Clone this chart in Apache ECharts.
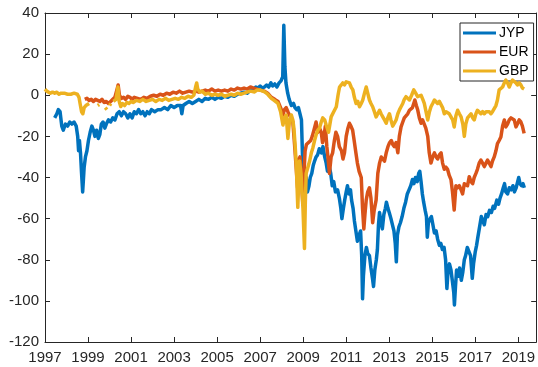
<!DOCTYPE html>
<html><head><meta charset="utf-8">
<script src="https://cdn.jsdelivr.net/npm/echarts@6/dist/echarts.min.js"></script>
<style>html,body{margin:0;padding:0;background:#fff}#c{width:538px;height:367px}</style>
</head><body><div id="c"></div>
<script>
const seriesNames = ['JYP', 'EUR', 'GBP'];
const xTicks = [1997, 1999, 2001, 2003, 2005, 2007, 2009, 2011, 2013, 2015, 2017, 2019];
const yTicks = [-120, -100, -80, -60, -40, -20, 0, 20, 40];

const jypData = [
[1997.45,-11],[1997.55,-9],[1997.62,-7],[1997.7,-8],[1997.78,-15],[1997.85,-17],[1997.95,-14],[1998.05,-15],[1998.15,-13],[1998.25,-14],[1998.35,-13],[1998.45,-15],[1998.52,-20],[1998.56,-27],[1998.6,-22],[1998.65,-28],[1998.7,-38],[1998.75,-47],[1998.78,-42],[1998.82,-35],[1998.88,-30],[1998.95,-27],[1999.02,-22],[1999.1,-18],[1999.18,-15],[1999.25,-17],[1999.32,-20],[1999.4,-17],[1999.48,-21],[1999.55,-19],[1999.62,-14],[1999.7,-13],[1999.78,-16],[1999.85,-14],[1999.95,-12],[2000.05,-13],[2000.15,-11],[2000.25,-12],[2000.35,-9],[2000.45,-8],[2000.55,-10],[2000.65,-8],[2000.75,-9],[2000.85,-11],[2000.95,-9],[2001.05,-11],[2001.15,-8],[2001.25,-9],[2001.35,-7],[2001.45,-9],[2001.55,-8],[2001.65,-10],[2001.75,-8],[2001.85,-9],[2001.95,-7],[2002.1,-8],[2002.25,-7],[2002.4,-7],[2002.55,-6],[2002.7,-7],[2002.85,-5],[2003.0,-6],[2003.15,-5],[2003.3,-5],[2003.36,-9],[2003.42,-5],[2003.55,-4],[2003.7,-3],[2003.85,-4],[2004.0,-3],[2004.15,-2],[2004.3,-3],[2004.45,-1.5],[2004.6,-2],[2004.75,-1],[2004.9,-2],[2005.05,-1],[2005.2,-1.5],[2005.35,-0.5],[2005.5,-1],[2005.65,0],[2005.8,-0.5],[2005.95,0.5],[2006.1,1],[2006.25,1.5],[2006.4,1],[2006.55,2.5],[2006.7,3],[2006.8,4],[2006.9,3.5],[2007.0,4.5],[2007.1,3.5],[2007.2,4],[2007.3,5],[2007.4,4],[2007.5,6],[2007.58,4.5],[2007.68,5.5],[2007.78,4],[2007.88,6],[2007.97,7],[2008.05,9],[2008.1,34],[2008.15,14],[2008.2,6],[2008.28,1],[2008.35,-2],[2008.45,-5],[2008.55,-4],[2008.62,-6],[2008.7,-7],[2008.78,-6],[2008.85,-9],[2008.92,-12],[2008.97,-30],[2009.02,-38],[2009.08,-43],[2009.14,-40],[2009.2,-47],[2009.27,-44],[2009.33,-40],[2009.4,-38],[2009.47,-34],[2009.53,-32],[2009.6,-30],[2009.67,-29],[2009.75,-26],[2009.85,-28],[2009.92,-25],[2010.0,-30],[2010.07,-33],[2010.13,-37],[2010.2,-34],[2010.28,-38],[2010.35,-44],[2010.42,-42],[2010.5,-47],[2010.6,-46],[2010.68,-50],[2010.75,-55],[2010.8,-60],[2010.87,-55],[2010.93,-51],[2011.0,-47],[2011.06,-44],[2011.13,-48],[2011.2,-46],[2011.25,-51],[2011.32,-55],[2011.38,-61],[2011.45,-66],[2011.52,-71],[2011.6,-68],[2011.67,-66],[2011.72,-78],[2011.76,-99],[2011.8,-88],[2011.87,-78],[2011.94,-74],[2012.0,-77],[2012.08,-78],[2012.15,-84],[2012.22,-89],[2012.27,-93],[2012.33,-85],[2012.4,-80],[2012.45,-75],[2012.5,-63],[2012.55,-57],[2012.62,-62],[2012.68,-65],[2012.75,-58],[2012.82,-55],[2012.87,-52],[2012.94,-55],[2013.0,-57],[2013.08,-60],[2013.15,-63],[2013.22,-66],[2013.28,-72],[2013.33,-81],[2013.38,-68],[2013.45,-64],[2013.52,-62],[2013.6,-59],[2013.68,-55],[2013.76,-52],[2013.84,-48],[2013.92,-46],[2014.0,-44],[2014.08,-41],[2014.15,-43],[2014.22,-40],[2014.3,-42],[2014.37,-38],[2014.42,-37],[2014.48,-42],[2014.54,-48],[2014.6,-52],[2014.67,-56],[2014.73,-59],[2014.77,-69],[2014.82,-62],[2014.9,-60],[2014.96,-59],[2015.03,-63],[2015.1,-67],[2015.18,-66],[2015.25,-70],[2015.33,-73],[2015.4,-72],[2015.47,-75],[2015.55,-74],[2015.62,-80],[2015.68,-94],[2015.73,-86],[2015.8,-82],[2015.87,-85],[2015.93,-90],[2016.0,-96],[2016.03,-102],[2016.08,-93],[2016.13,-85],[2016.2,-88],[2016.27,-84],[2016.35,-90],[2016.42,-86],[2016.49,-80],[2016.55,-78],[2016.63,-74],[2016.7,-76],[2016.78,-78],[2016.86,-89],[2016.92,-82],[2017.0,-76],[2017.06,-73],[2017.12,-69],[2017.2,-64],[2017.28,-59],[2017.35,-61],[2017.42,-63],[2017.5,-58],[2017.58,-59],[2017.66,-56],[2017.75,-57],[2017.83,-54],[2017.9,-55],[2018.0,-51],[2018.08,-53],[2018.15,-50],[2018.22,-48],[2018.3,-45],[2018.36,-43],[2018.42,-47],[2018.5,-48],[2018.58,-45],[2018.67,-46],[2018.75,-44],[2018.82,-47],[2018.9,-45],[2018.97,-42],[2019.02,-40],[2019.08,-43],[2019.15,-44],[2019.22,-43],[2019.28,-45]
];

const eurData = [
[1998.85,-2],[1998.95,-1.5],[1999.05,-2.5],[1999.15,-2],[1999.25,-3],[1999.35,-2],[1999.45,-2.5],[1999.55,-3],[1999.65,-2],[1999.75,-3.5],[1999.85,-3],[1999.95,-4],[2000.05,-3],[2000.15,-2],[2000.25,-1],[2000.35,3],[2000.4,5],[2000.46,0],[2000.55,-1.5],[2000.65,-1],[2000.75,-2],[2000.85,-0.5],[2000.95,-1],[2001.05,-2],[2001.15,-1],[2001.3,-1.5],[2001.45,-2],[2001.6,-1],[2001.75,-1.5],[2001.9,-0.5],[2002.05,0],[2002.2,-0.5],[2002.35,0.5],[2002.5,0],[2002.65,1],[2002.8,0.5],[2002.95,1.5],[2003.1,1],[2003.25,2],[2003.4,1],[2003.55,1.5],[2003.7,2],[2003.85,1.5],[2004.0,2],[2004.15,1.5],[2004.3,2],[2004.45,2.5],[2004.6,2],[2004.75,3],[2004.9,2],[2005.05,2.5],[2005.2,2],[2005.35,2.5],[2005.5,2],[2005.65,3],[2005.8,2.5],[2005.95,3.5],[2006.1,3],[2006.25,3.5],[2006.4,3],[2006.55,4],[2006.7,3.5],[2006.85,3],[2007.0,2.5],[2007.2,2],[2007.35,1],[2007.52,-1],[2007.68,-2],[2007.83,-3],[2007.95,-6],[2008.06,-9.6],[2008.13,-7],[2008.21,-6],[2008.29,-8],[2008.36,-9.6],[2008.44,-11],[2008.52,-13],[2008.6,-24],[2008.66,-33],[2008.74,-45],[2008.8,-31],[2008.85,-30],[2008.9,-38],[2008.98,-52],[2009.03,-40],[2009.09,-27],[2009.15,-24],[2009.25,-23],[2009.35,-22],[2009.42,-20],[2009.5,-17],[2009.6,-13],[2009.68,-18],[2009.76,-16],[2009.84,-18],[2009.9,-23],[2009.97,-20],[2010.03,-15],[2010.1,-25],[2010.15,-30],[2010.22,-38],[2010.3,-30],[2010.37,-28],[2010.45,-22],[2010.52,-18],[2010.6,-20],[2010.68,-25],[2010.78,-27],[2010.85,-31],[2010.92,-28],[2011.0,-20],[2011.08,-16],[2011.15,-13.6],[2011.22,-15],[2011.3,-17],[2011.37,-22],[2011.45,-28],[2011.52,-33],[2011.6,-37],[2011.7,-40],[2011.76,-55],[2011.82,-65],[2011.87,-58],[2011.93,-51],[2012.0,-47],[2012.08,-45],[2012.15,-50],[2012.23,-62],[2012.3,-56],[2012.39,-51],[2012.47,-38],[2012.55,-33],[2012.63,-30],[2012.7,-31],[2012.78,-32],[2012.86,-28],[2012.94,-25],[2013.02,-23],[2013.1,-22],[2013.17,-24],[2013.24,-25],[2013.32,-23],[2013.4,-28],[2013.47,-20],[2013.55,-15.4],[2013.63,-13],[2013.7,-11],[2013.78,-10.5],[2013.86,-9],[2013.94,-7.3],[2014.01,-7],[2014.08,-6],[2014.14,-4],[2014.19,-2.3],[2014.26,-5],[2014.32,-7],[2014.4,-11],[2014.48,-13.6],[2014.55,-12],[2014.63,-12],[2014.7,-16],[2014.79,-20],[2014.86,-28],[2014.94,-33],[2015.02,-30],[2015.1,-28],[2015.18,-30],[2015.25,-31],[2015.33,-29],[2015.41,-28],[2015.48,-33],[2015.56,-36],[2015.64,-35],[2015.71,-36],[2015.79,-39],[2015.87,-41],[2015.94,-47],[2016.02,-55.8],[2016.1,-44],[2016.18,-45],[2016.26,-44],[2016.34,-46],[2016.41,-48],[2016.49,-43],[2016.57,-43],[2016.64,-44],[2016.72,-39.6],[2016.8,-42],[2016.88,-43],[2016.95,-40],[2017.03,-38],[2017.1,-36],[2017.18,-33],[2017.26,-31.5],[2017.34,-33],[2017.42,-34.7],[2017.5,-33],[2017.57,-31.5],[2017.65,-33],[2017.73,-34.7],[2017.8,-32],[2017.88,-30],[2017.96,-27],[2018.03,-23.5],[2018.11,-22],[2018.19,-20.3],[2018.27,-15],[2018.35,-12],[2018.42,-15.4],[2018.5,-14],[2018.58,-12],[2018.66,-11],[2018.73,-10.5],[2018.81,-12],[2018.89,-15.4],[2018.96,-14],[2019.04,-12],[2019.12,-13],[2019.19,-15],[2019.27,-18.5]
];

const gbpData = [
[1997.0,3],[1997.08,2],[1997.15,1.5],[1997.25,1],[1997.35,1.5],[1997.45,1],[1997.55,1.5],[1997.65,0.5],[1997.75,1],[1997.9,1],[1998.05,0.5],[1998.2,0.5],[1998.35,1],[1998.5,0.5],[1998.58,-1],[1998.63,-4],[1998.7,-8],[1998.76,-9],[1998.82,-6],[1998.9,-5],[1998.97,-4.5],[1999.05,-4],[1999.12,null],[1999.45,-5],[1999.52,-4.5],[1999.56,null],[1999.8,-6],[1999.88,-7],[1999.93,null],[2000.0,-5],[2000.06,-4],[2000.1,null],[2000.18,-3],[2000.3,-2],[2000.36,2],[2000.39,4],[2000.45,-3],[2000.52,-5.5],[2000.6,-4],[2000.7,-5],[2000.8,-3.5],[2000.9,-4],[2001.0,-3],[2001.1,-3.5],[2001.25,-2.5],[2001.4,-3],[2001.55,-2],[2001.7,-3],[2001.85,-2.5],[2002.0,-2],[2002.15,-3],[2002.3,-2],[2002.45,-2.5],[2002.6,-1.5],[2002.75,-2.5],[2002.9,-2],[2003.05,-1.5],[2003.2,-2],[2003.35,-1],[2003.5,-1.5],[2003.65,-0.5],[2003.8,-1],[2003.92,0],[2004.0,4],[2004.05,6],[2004.1,3],[2004.2,1.5],[2004.3,2],[2004.45,0.5],[2004.6,1],[2004.75,0],[2004.9,0.5],[2005.05,0],[2005.2,0.5],[2005.35,-0.5],[2005.5,0],[2005.65,0.5],[2005.8,0],[2005.95,1],[2006.1,0.5],[2006.25,1],[2006.4,1.5],[2006.55,2],[2006.74,1.6],[2006.85,2.5],[2007.0,2.5],[2007.21,1.6],[2007.35,0.5],[2007.52,-1.5],[2007.65,-2.5],[2007.83,-4],[2007.95,-8],[2008.06,-14.5],[2008.13,-11],[2008.21,-9.6],[2008.29,-21],[2008.37,-12],[2008.45,-9.6],[2008.52,-12],[2008.57,-16],[2008.63,-25],[2008.68,-34],[2008.75,-54.5],[2008.8,-40],[2008.83,-32],[2008.9,-38],[2008.95,-48],[2008.99,-55],[2009.06,-74.5],[2009.1,-52],[2009.14,-38],[2009.22,-35],[2009.3,-32],[2009.38,-28],[2009.45,-25.6],[2009.53,-22],[2009.61,-19],[2009.68,-17],[2009.76,-16],[2009.84,-13],[2009.91,-11],[2010.0,-12],[2010.07,-14.5],[2010.18,-18],[2010.3,-10.5],[2010.42,-8],[2010.54,-5.6],[2010.62,0],[2010.69,4],[2010.77,5],[2010.84,6],[2010.92,5],[2011.0,6.5],[2011.07,7.4],[2011.15,6],[2011.23,4],[2011.31,2.6],[2011.38,-1],[2011.46,-4],[2011.54,-3],[2011.62,-5.6],[2011.7,-4],[2011.77,-2.3],[2011.85,1],[2011.93,4],[2012.0,1],[2012.08,-2.3],[2012.15,-4],[2012.23,-5.6],[2012.31,-8],[2012.39,-10.5],[2012.47,-9],[2012.55,-7.3],[2012.62,-9],[2012.7,-10.5],[2012.78,-12],[2012.86,-13.6],[2012.93,-11],[2013.01,-9],[2013.08,-12],[2013.16,-15],[2013.24,-13.6],[2013.32,-12],[2013.4,-9],[2013.48,-7],[2013.55,-5.6],[2013.63,-4],[2013.7,-2],[2013.78,-0.7],[2013.86,-1.5],[2013.94,-2.3],[2014.04,0],[2014.14,2.6],[2014.23,1],[2014.32,-0.7],[2014.4,-1],[2014.48,0],[2014.56,-2],[2014.63,-4],[2014.71,-8],[2014.79,-12],[2014.87,-8],[2014.94,-5.6],[2015.02,-4],[2015.1,-2.3],[2015.18,-3],[2015.25,-4],[2015.33,-3],[2015.41,-3.3],[2015.48,-6],[2015.56,-9],[2015.64,-8],[2015.71,-7.3],[2015.79,-9],[2015.87,-10.5],[2015.95,-12],[2016.02,-15.4],[2016.1,-10],[2016.18,-7.3],[2016.26,-9],[2016.34,-10.5],[2016.42,-14],[2016.49,-20],[2016.56,-14],[2016.64,-11],[2016.72,-10],[2016.8,-9],[2016.88,-11],[2016.95,-12],[2017.03,-9],[2017.1,-7.3],[2017.18,-8],[2017.26,-9],[2017.34,-8],[2017.42,-9],[2017.5,-8],[2017.57,-7.3],[2017.65,-8],[2017.73,-9],[2017.8,-8],[2017.88,-7.3],[2017.96,-5],[2018.03,-2.3],[2018.11,2.6],[2018.19,3],[2018.27,4],[2018.35,6],[2018.42,7.4],[2018.5,6],[2018.58,4],[2018.66,6],[2018.73,7.4],[2018.81,7],[2018.89,6],[2018.96,5],[2019.04,6],[2019.12,5],[2019.19,3.5],[2019.27,3]
];

const allData = [jypData, eurData, gbpData];
const colors = ['#0072BD', '#D95319', '#EDB120'];
const axisColor = '#262626';
const fontFamily = 'Liberation Sans, Arial, Helvetica, sans-serif';

const chart = echarts.init(document.getElementById('c'), null, {renderer: 'canvas'});

function xAx(pos, show) {
  return {
    type: 'value', position: pos, min: 1997, max: 2019.83,
    axisLine: {show: true, onZero: false, lineStyle: {color: axisColor, width: 1}},
    axisTick: {show: true, inside: true, length: 5, lineStyle: {color: axisColor}, customValues: xTicks},
    axisLabel: {show: show, customValues: xTicks, formatter: v => String(Math.round(v)),
      color: axisColor, fontSize: 15, fontFamily: fontFamily, margin: 8},
    splitLine: {show: false}
  };
}
function yAx(pos, show) {
  return {
    type: 'value', position: pos, min: -120, max: 40, interval: 20,
    axisLine: {show: true, onZero: false, lineStyle: {color: axisColor, width: 1}},
    axisTick: {show: true, inside: true, length: 5, lineStyle: {color: axisColor}},
    axisLabel: {show: show, color: axisColor, fontSize: 15, fontFamily: fontFamily, margin: 6},
    splitLine: {show: false}
  };
}

chart.setOption({
  animation: false,
  backgroundColor: '#fff',
  grid: {left: 45, right: 1, top: 13, bottom: 25, containLabel: false},
  xAxis: [xAx('bottom', true), xAx('top', false)],
  yAxis: [yAx('left', true), yAx('right', false)],
  legend: {
    show: true, orient: 'vertical', left: 460, top: 23,
    data: seriesNames, icon: 'rect', itemWidth: 33, itemHeight: 3, itemGap: 5,
    padding: [3, 5, 3, 3], borderColor: axisColor, borderWidth: 1, backgroundColor: '#fff',
    textStyle: {fontSize: 14, color: '#000', fontFamily: fontFamily, padding: [0, 0, 0, -2]}
  },
  series: seriesNames.map((n, i) => ({
    name: n, type: 'line', xAxisIndex: 0, yAxisIndex: 0,
    data: allData[i].map(p => [p[0], p[1] === null ? '-' : p[1]]),
    showSymbol: false, symbol: 'none', connectNulls: false,
    lineStyle: {color: colors[i], width: 3.5, join: 'round'},
    itemStyle: {color: colors[i]},
    z: 2 + i
  }))
});
</script>
</body></html>
